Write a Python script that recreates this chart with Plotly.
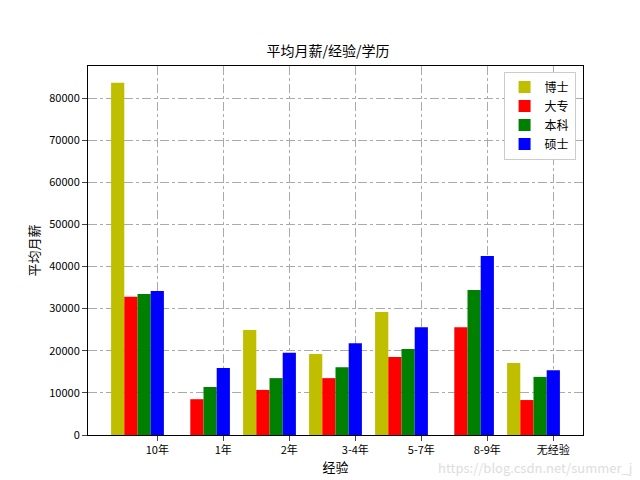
import plotly.graph_objects as go

categories = ['10年', '1年', '2年', '3-4年', '5-7年', '8-9年', '无经验']
edu_levels = ['博士', '大专', '本科', '硕士']
salary_boshi = [83600, 0, 24900, 19200, 29200, 0, 17100]
salary_dazhuan = [32800, 8500, 10700, 13500, 18500, 25600, 8300]
salary_benke = [33500, 11400, 13500, 16100, 20400, 34400, 13800]
salary_shuoshi = [34200, 15900, 19500, 21800, 25600, 42500, 15400]
colors = ['#bfbf00', '#ff0000', '#008000', '#0000ff']

series = [salary_boshi, salary_dazhuan, salary_benke, salary_shuoshi]
w = 0.2
fig = go.Figure()
for k, (name, vals) in enumerate(zip(edu_levels, series)):
    fig.add_trace(go.Bar(
        x=[i + k * w for i in range(len(categories))], y=vals, width=w,
        name=name, marker=dict(color=colors[k], line=dict(width=0))))

font = 'Noto Sans CJK SC, sans-serif'
fig.update_layout(
    width=640, height=480, barmode='overlay',
    paper_bgcolor='white', plot_bgcolor='white',
    margin=dict(l=80, r=65, t=58, b=53),
    font=dict(family=font, size=11, color='black'),
    title=dict(text='平均月薪/经验/学历', x=0.5, xanchor='center', y=0.92, font=dict(size=14)),
    legend=dict(x=0.985, y=0.985, xanchor='right', yanchor='top', tracegroupgap=0,
                bordercolor='#cccccc', borderwidth=1, bgcolor='white', font=dict(size=12)),
    annotations=[dict(text='https://blog.csdn.net/summer_jh', xref='paper', yref='paper',
                      x=1.12, y=-0.12, xanchor='right', showarrow=False,
                      font=dict(size=13, color='#dddddd'))],
)
fig.update_xaxes(
    range=[-0.45, 7.05], tickvals=[i + 3 * w for i in range(len(categories))],
    ticktext=categories, ticks='outside', automargin=False,
    title=dict(text='经验', standoff=4),
    showgrid=True, gridcolor='#aaaaaa', griddash='dashdot', layer='above traces',
    showline=True, linecolor='black', mirror=True, zeroline=False)
fig.update_yaxes(
    range=[0, 87600], tickvals=list(range(0, 80001, 10000)),
    ticktext=[str(v) for v in range(0, 80001, 10000)], automargin=False,
    title=dict(text='平均月薪', standoff=6), ticks='outside',
    showgrid=True, gridcolor='#aaaaaa', griddash='dashdot', layer='above traces',
    showline=True, linecolor='black', mirror=True, zeroline=False)

fig.write_html('out.html')
